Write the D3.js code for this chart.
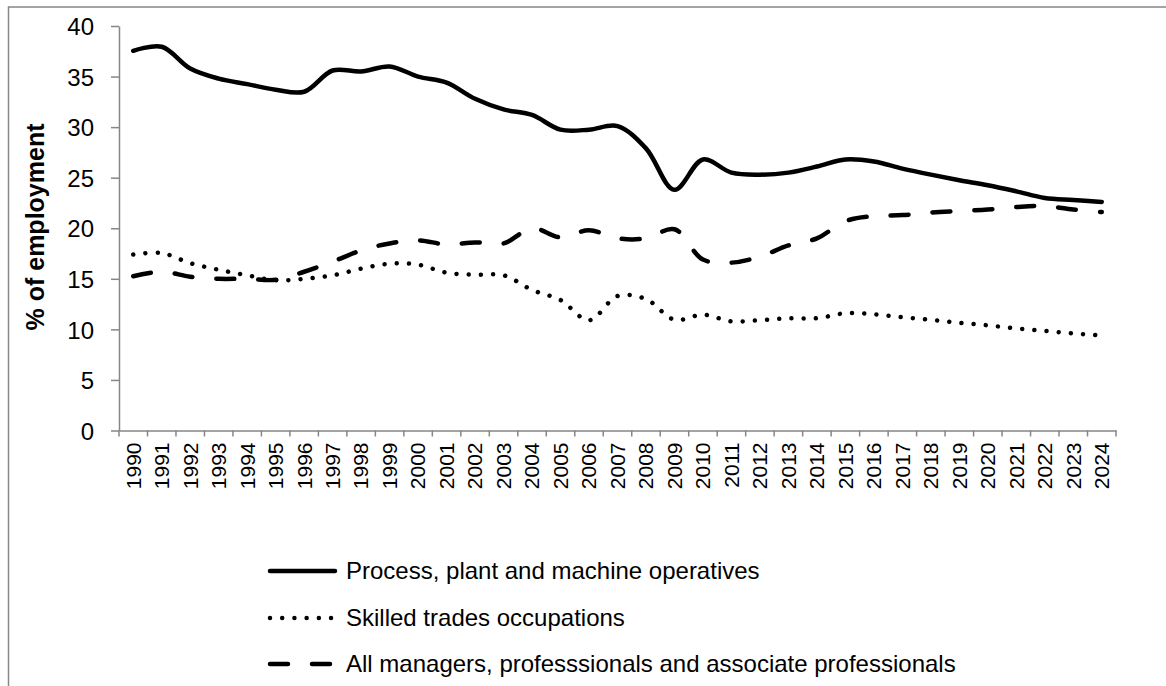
<!DOCTYPE html>
<html>
<head>
<meta charset="utf-8">
<script src="https://cdn.jsdelivr.net/npm/d3@7"></script>
<style>
	body { margin: 0; background: #fff; }
	svg { display: block; font-family: "Liberation Sans", Arial, sans-serif; }
	.domain, .tick line { stroke: #868686; stroke-width: 1.5; }
</style>
</head>
<body>
<div id="chart"></div>
<script>
var years = ["1990","1991","1992","1993","1994","1995","1996","1997","1998","1999",
	"2000","2001","2002","2003","2004","2005","2006","2007","2008","2009",
	"2010","2011","2012","2013","2014","2015","2016","2017","2018","2019",
	"2020","2021","2022","2023","2024"];

var process = [37.55, 37.95, 35.8, 34.8, 34.25, 33.7, 33.5, 35.6, 35.5, 36.0,
	35.0, 34.4, 32.8, 31.75, 31.2, 29.75, 29.75, 30.1, 27.9, 23.8,
	26.8, 25.5, 25.3, 25.5, 26.1, 26.8, 26.6, 25.9, 25.3, 24.75,
	24.25, 23.65, 23.0, 22.8, 22.6];

var skilled = [17.4, 17.55, 16.55, 15.9, 15.35, 14.85, 15.0, 15.35, 16.0, 16.5,
	16.4, 15.6, 15.4, 15.35, 13.9, 12.9, 10.9, 13.3, 13.0, 10.95,
	11.45, 10.8, 10.9, 11.1, 11.1, 11.6, 11.5, 11.2, 10.95, 10.65,
	10.4, 10.1, 9.85, 9.6, 9.4];

var managers = [15.25, 15.7, 15.2, 15.0, 15.0, 14.9, 15.7, 16.7, 17.8, 18.5,
	18.8, 18.4, 18.6, 18.5, 20.0, 19.1, 19.8, 19.0, 19.0, 19.9,
	16.9, 16.6, 17.2, 18.3, 19.0, 20.7, 21.2, 21.3, 21.55, 21.7,
	21.85, 22.1, 22.2, 21.85, 21.6];

var yTicks = [0, 5, 10, 15, 20, 25, 30, 35, 40];

var seriesNames = ["Process, plant and machine operatives",
	"Skilled trades occupations",
	"All managers, professsionals and associate professionals"];

var W = 1166, H = 686;
var margin = {top: 26, left: 119, right: 50, bottom: 256};

var svg = d3.select("#chart").append("svg")
	.attr("width", W)
	.attr("height", H);

// outer chart frame
svg.append("rect")
	.attr("x", 8.5).attr("y", 7)
	.attr("width", W + 10).attr("height", H + 10)
	.attr("fill", "none")
	.attr("stroke", "#878787")
	.attr("stroke-width", 1.5);

var xScale = d3.scaleBand()
	.domain(years)
	.range([119, 1116]);

var yScale = d3.scaleLinear()
	.domain([0, 40])
	.range([430.5, 26]);

// y axis
var yAxis = svg.append("g")
	.attr("transform", "translate(119,0)")
	.call(d3.axisLeft(yScale).tickValues(yTicks).tickSize(8).tickPadding(17).tickSizeOuter(0));
yAxis.selectAll("text")
	.attr("font-size", 24)
	.attr("fill", "#000")
	.attr("dy", "0.36em");

// x axis: ticks sit between categories like Excel
var xAxis = svg.append("g")
	.attr("transform", "translate(0," + yScale(0) + ")")
	.call(d3.axisBottom(xScale).tickSize(0).tickSizeOuter(0).tickFormat(""));

var bounds = years.map(function(d) { return xScale(d); }).concat([xScale.range()[1]]);
xAxis.selectAll(".sep")
	.data(bounds)
	.enter().append("line")
	.attr("class", "sep")
	.attr("x1", function(d) { return d; })
	.attr("x2", function(d) { return d; })
	.attr("y1", 0)
	.attr("y2", 6)
	.attr("stroke", "#868686")
	.attr("stroke-width", 1.5);

xAxis.selectAll(".ylab")
	.data(years)
	.enter().append("text")
	.attr("class", "ylab")
	.attr("transform", function(d) {
		return "translate(" + (xScale(d) + xScale.bandwidth() / 2) + ",12) rotate(-90)";
	})
	.attr("text-anchor", "end")
	.attr("dy", "0.35em")
	.attr("font-size", 21)
	.attr("fill", "#000")
	.text(function(d) { return d; });

// y axis title
svg.append("text")
	.attr("transform", "translate(35,227) rotate(-90)")
	.attr("text-anchor", "middle")
	.attr("dy", "0.35em")
	.attr("font-size", 25)
	.attr("font-weight", "bold")
	.attr("fill", "#000")
	.text("% of employment");

var line = d3.line()
	.x(function(d, i) { return xScale(years[i]) + xScale.bandwidth() / 2; })
	.y(function(d) { return yScale(d); })
	.curve(d3.curveCatmullRom.alpha(0.5));

var styles = [
	{data: process, dash: null},
	{data: skilled, dash: "0.01,12.2"},
	{data: managers, dash: "18,24"}
];

styles.forEach(function(s) {
	svg.append("path")
		.datum(s.data)
		.attr("d", line)
		.attr("fill", "none")
		.attr("stroke", "#000")
		.attr("stroke-width", 4.5)
		.attr("stroke-linecap", "round")
		.attr("stroke-linejoin", "round")
		.attr("stroke-dasharray", s.dash);
});

// legend
var legendY = [571, 618, 664];
var legend = svg.selectAll(".leg")
	.data(styles)
	.enter().append("g")
	.attr("class", "leg")
	.attr("transform", function(d, i) { return "translate(0," + legendY[i] + ")"; });

legend.append("line")
	.attr("x1", 270).attr("x2", 335)
	.attr("y1", 0).attr("y2", 0)
	.attr("stroke", "#000")
	.attr("stroke-width", 4.5)
	.attr("stroke-linecap", "round")
	.attr("stroke-dasharray", function(d) { return d.dash; });

legend.append("text")
	.attr("x", 346)
	.attr("dy", "0.35em")
	.attr("font-size", 24)
	.attr("fill", "#000")
	.text(function(d, i) { return seriesNames[i]; });
</script>
</body>
</html>
